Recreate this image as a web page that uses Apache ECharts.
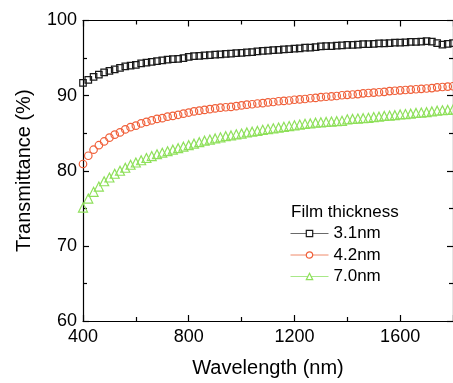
<!DOCTYPE html>
<html>
<head>
<meta charset="utf-8">
<script src="https://cdn.jsdelivr.net/npm/echarts@6/dist/echarts.min.js"></script>
<style>
html,body{margin:0;padding:0;background:#fff;}
#chart{width:453px;height:383px;}
</style>
</head>
<body>
<div id="chart"></div>
<script>
var wavelengths = [400,420,440,460,480,500,520,540,560,580,600,620,640,660,680,700,720,740,760,780,800,820,840,860,880,900,920,940,960,980,1000,1020,1040,1060,1080,1100,1120,1140,1160,1180,1200,1220,1240,1260,1280,1300,1320,1340,1360,1380,1400,1420,1440,1460,1480,1500,1520,1540,1560,1580,1600,1620,1640,1660,1680,1700,1720,1740,1760,1780,1800];

var seriesNames = ['3.1nm', '4.2nm', '7.0nm'];

var t31 = [91.7,92.1,92.5,92.8,93.1,93.3,93.5,93.7,93.9,94.0,94.1,94.3,94.4,94.5,94.6,94.7,94.8,94.85,94.9,95.0,95.15,95.25,95.3,95.35,95.4,95.45,95.5,95.55,95.6,95.65,95.7,95.75,95.8,95.9,95.95,96.0,96.05,96.1,96.15,96.2,96.25,96.3,96.4,96.4,96.45,96.55,96.6,96.6,96.65,96.7,96.75,96.75,96.8,96.85,96.85,96.9,96.95,96.95,97.0,97.05,97.05,97.1,97.15,97.15,97.2,97.25,97.2,97.0,96.8,96.9,97.0];

var t42 = [80.9,82.0,82.8,83.4,83.9,84.4,84.8,85.1,85.5,85.8,86.0,86.3,86.5,86.7,86.9,87.0,87.2,87.3,87.45,87.6,87.75,87.9,88.0,88.1,88.2,88.3,88.4,88.45,88.5,88.6,88.7,88.8,88.85,88.95,89.0,89.1,89.15,89.25,89.3,89.35,89.45,89.5,89.55,89.65,89.7,89.8,89.85,89.9,89.95,90.05,90.1,90.15,90.2,90.3,90.35,90.4,90.45,90.5,90.6,90.65,90.7,90.75,90.8,90.85,90.9,90.95,91.0,91.1,91.15,91.2,91.25];

var t70 = [75.1,76.3,77.2,77.9,78.6,79.1,79.6,80.0,80.4,80.8,81.1,81.4,81.7,81.95,82.2,82.4,82.6,82.8,83.0,83.2,83.4,83.6,83.8,84.0,84.15,84.3,84.45,84.6,84.7,84.85,84.95,85.1,85.2,85.3,85.45,85.55,85.65,85.75,85.85,85.95,86.05,86.15,86.25,86.3,86.4,86.45,86.5,86.55,86.6,86.65,86.85,86.9,86.95,87.0,87.05,87.15,87.2,87.3,87.35,87.4,87.5,87.55,87.6,87.7,87.75,87.8,87.9,88.0,88.05,88.1,88.15];

var xTicks = [400, 800, 1200, 1600];
var yTicks = [60, 70, 80, 90, 100];

function pairs(vals) {
  var out = [];
  for (var i = 0; i < wavelengths.length; i++) out.push([wavelengths[i], vals[i]]);
  return out;
}

var FONT = 'Liberation Sans, Arial, Helvetica, sans-serif';
var markerColors = ['#1a1a1a', '#f0603a', '#8ee05a'];
var legendLineColors = ['#6a6a6a', '#f08a6a', '#a8e888'];
var symbols = ['rect', 'circle', 'triangle'];
var sizes = [6.5, 7.5, 9];
var datasets = [t31, t42, t70];

var series = [];
for (var k = 0; k < 3; k++) {
  series.push({
    name: seriesNames[k],
    type: 'line',
    data: pairs(datasets[k]),
    symbol: symbols[k],
    symbolSize: sizes[k],
    showAllSymbol: true,
    lineStyle: { width: 0, opacity: 0 },
    itemStyle: { color: 'rgba(255,255,255,0)', borderColor: markerColors[k], borderWidth: 1.2 },
    emphasis: { disabled: true },
    animation: false,
    z: 3 - k
  });
}

var axisCommon = {
  axisLine: { show: true, lineStyle: { color: '#000', width: 1.2 } },
  axisTick: { show: true, inside: true, length: 6, lineStyle: { color: '#000', width: 1.2 } },
  minorTick: { show: true, splitNumber: 2, length: 4, lineStyle: { color: '#000', width: 1.2 } },
  splitLine: { show: false }
};

var chart = echarts.init(document.getElementById('chart'), null, { renderer: 'canvas' });
chart.setOption({
  animation: false,
  backgroundColor: '#fff',
  title: {
    text: 'Film thickness',
    left: 291,
    top: 204,
    padding: 0,
    textStyle: { fontFamily: FONT, fontSize: 17, fontWeight: 'normal', color: '#000' }
  },
  legend: {
    orient: 'vertical',
    left: 290,
    top: 225,
    padding: 0,
    itemWidth: 38,
    itemHeight: 8,
    itemGap: 4.5,
    textStyle: { fontFamily: FONT, fontSize: 17, color: '#000', lineHeight: 17 },
    data: seriesNames.map(function (n, i) {
      return {
        name: n,
        lineStyle: { color: legendLineColors[i], width: 1, opacity: 1 },
        itemStyle: { color: '#fff', borderColor: markerColors[i], borderWidth: 1.2 }
      };
    })
  },
  grid: { left: 83, right: -11.5, top: 20.5, bottom: 56, containLabel: false },
  xAxis: [
    Object.assign({}, axisCommon, {
      type: 'value',
      position: 'bottom',
      min: 400,
      max: 1800,
      interval: 400,
      name: 'Wavelength (nm)',
      nameLocation: 'middle',
      nameGap: 37,
      nameTextStyle: { fontFamily: FONT, fontSize: 20, color: '#000' },
      axisLabel: {
        show: true, margin: 7, showMaxLabel: false,
        fontFamily: FONT, fontSize: 18, color: '#000',
        formatter: function (v) { return xTicks.indexOf(v) >= 0 ? String(v) : ''; }
      }
    }),
    Object.assign({}, axisCommon, {
      type: 'value',
      position: 'top',
      min: 400,
      max: 1800,
      interval: 400,
      axisLabel: { show: false }
    })
  ],
  yAxis: [
    Object.assign({}, axisCommon, {
      type: 'value',
      position: 'left',
      min: 60,
      max: 100,
      interval: 10,
      name: 'Transmittance (%)',
      nameLocation: 'middle',
      nameGap: 49,
      nameTextStyle: { fontFamily: FONT, fontSize: 20, color: '#000' },
      axisLabel: {
        show: true, margin: 6,
        fontFamily: FONT, fontSize: 18, color: '#000',
        formatter: function (v) { return yTicks.indexOf(v) >= 0 ? String(v) : ''; }
      }
    }),
    Object.assign({}, axisCommon, {
      type: 'value',
      position: 'right',
      min: 60,
      max: 100,
      interval: 10,
      axisLabel: { show: false }
    })
  ],
  series: series
});
</script>
</body>
</html>
